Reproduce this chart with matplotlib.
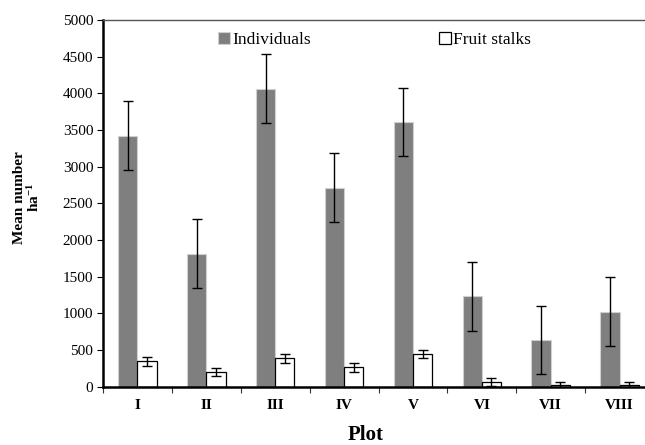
import matplotlib.pyplot as plt
import numpy as np

plt.rcParams["font.family"] = ["Liberation Serif", "DejaVu Serif"]
plt.rcParams["mathtext.fontset"] = "custom"
plt.rcParams["mathtext.rm"] = "Liberation Serif"
plt.rcParams["mathtext.bf"] = "Liberation Serif:bold"

plots = ["I", "II", "III", "IV", "V", "VI", "VII", "VIII"]
individuals = [3425, 1815, 4065, 2715, 3610, 1230, 635, 1025]
individuals_err = [465, 465, 465, 465, 465, 465, 465, 470]
fruit_stalks = [345, 200, 385, 265, 445, 65, 20, 20]
fruit_stalks_err = [65, 58, 60, 63, 60, 50, 42, 45]

x = np.arange(len(plots))
width = 0.28

fig = plt.figure(figsize=(6.45, 4.45), dpi=100)
ax = fig.add_axes([103 / 645, 58.3 / 445, 551 / 645, 366.7 / 445])

ax.bar(x - width / 2, individuals, width, yerr=individuals_err, color="#7f7f7f",
       edgecolor="#d0d0d0", linewidth=0.8, capsize=3.5,
       error_kw={"elinewidth": 1, "capthick": 1}, label="Individuals")
ax.bar(x + width / 2, fruit_stalks, width, yerr=fruit_stalks_err, color="white",
       edgecolor="black", linewidth=0.9, capsize=3.5,
       error_kw={"elinewidth": 1, "capthick": 1}, label="Fruit stalks")

ax.set_xlim(-0.5, len(plots) - 0.5)
ax.set_ylim(0, 5000)
ax.set_yticks(np.arange(0, 5001, 500))
ax.set_xticks(x)
ax.set_xticklabels(plots, fontweight="bold", fontsize=11)
ax.set_xticks(np.arange(-0.5, len(plots), 1.0), minor=True)
ax.tick_params(axis="x", which="major", length=0, pad=9)
ax.tick_params(axis="x", which="minor", length=4, width=0.8, color="#333333")
ax.tick_params(axis="y", length=4, width=0.8, labelsize=11, pad=3)

for side in ["left", "bottom"]:
    ax.spines[side].set_linewidth(1.8)
    ax.spines[side].set_color("black")
ax.spines["top"].set_color("#555555")
ax.spines["top"].set_linewidth(1.0)
ax.spines["right"].set_visible(False)

ax.set_xlabel("Plot", fontweight="bold", fontsize=15)
ax.xaxis.set_label_coords(0.477, -0.105)
ax.set_ylabel("Mean number\n" + r"$\mathbf{ha^{-1}}$", fontweight="bold",
              fontsize=11, linespacing=1.0)
ax.yaxis.set_label_coords(-0.111, 0.515)

ax.legend(loc="upper left", bbox_to_anchor=(0.181, 1.01), ncol=2, frameon=False,
          fontsize=12.5, handlelength=0.65, handleheight=0.65, handletextpad=0.15,
          columnspacing=7.4)

fig.savefig("out.png", dpi=100)
